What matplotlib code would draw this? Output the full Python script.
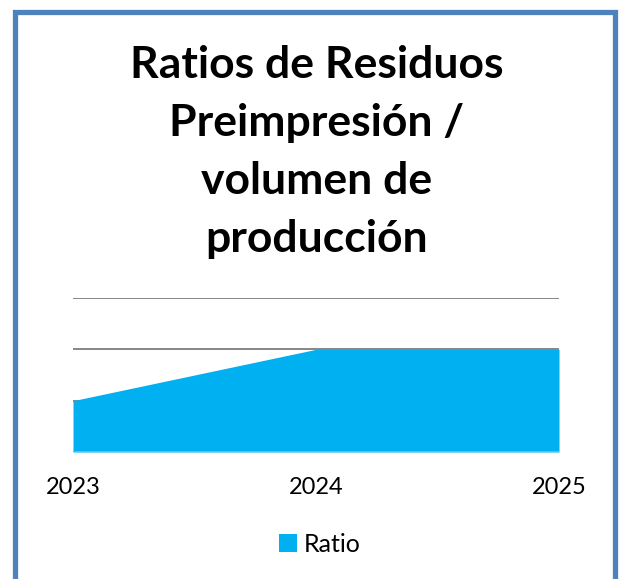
import matplotlib
matplotlib.use("Agg")
import matplotlib.pyplot as plt
from matplotlib.patches import Rectangle

years  = [2023, 2024, 2025]
ratio  = [1.0, 2.0, 2.0]
yticks = [0, 1, 2, 3]

title  = "Ratios de Residuos\nPreimpresión /\nvolumen de\nproducción"

fig = plt.figure(figsize=(6.29, 5.79), dpi=100)
fig.patch.set_facecolor("white")

# blue frame round the chart (bottom edge runs off the picture)
fig.patches.append(Rectangle((15 / 629, -0.05), 600 / 629, 1.05 - 12 / 579,
                             transform=fig.transFigure, fill=False,
                             edgecolor="#4F81BD", linewidth=3.8, zorder=0))

fig.text(0.503, 1 - 45 / 579, title, ha="center", va="top",
         fontsize=32, fontweight="bold", family="Lato",
         linespacing=1.55)

ax = fig.add_axes([73 / 629, 1 - 452 / 579, 486 / 629, 154 / 579])

for y in yticks:
    ax.axhline(y, color="#868686", linewidth=1.4, zorder=1)

ax.fill_between(years, ratio, 0, color="#00B0F0", linewidth=0,
                label="Ratio", zorder=2)
ax.axhline(0, color="#A6A6A6", linewidth=1.4, zorder=3)

ax.set_xlim(years[0], years[-1])
ax.set_ylim(0, 3)
ax.set_xticks(years)
ax.set_xticklabels([str(y) for y in years], family="Lato", fontsize=17)
ax.set_yticks([])
ax.tick_params(axis="x", length=0, pad=18)
for side in ax.spines.values():
    side.set_visible(False)

leg = fig.legend(loc="center", bbox_to_anchor=(320 / 629, 1 - 544 / 579),
                 frameon=False, prop={"family": "Lato", "size": 18},
                 handlelength=0.7, handleheight=0.7, handletextpad=0.3)

fig.savefig("out.png", dpi=100)
